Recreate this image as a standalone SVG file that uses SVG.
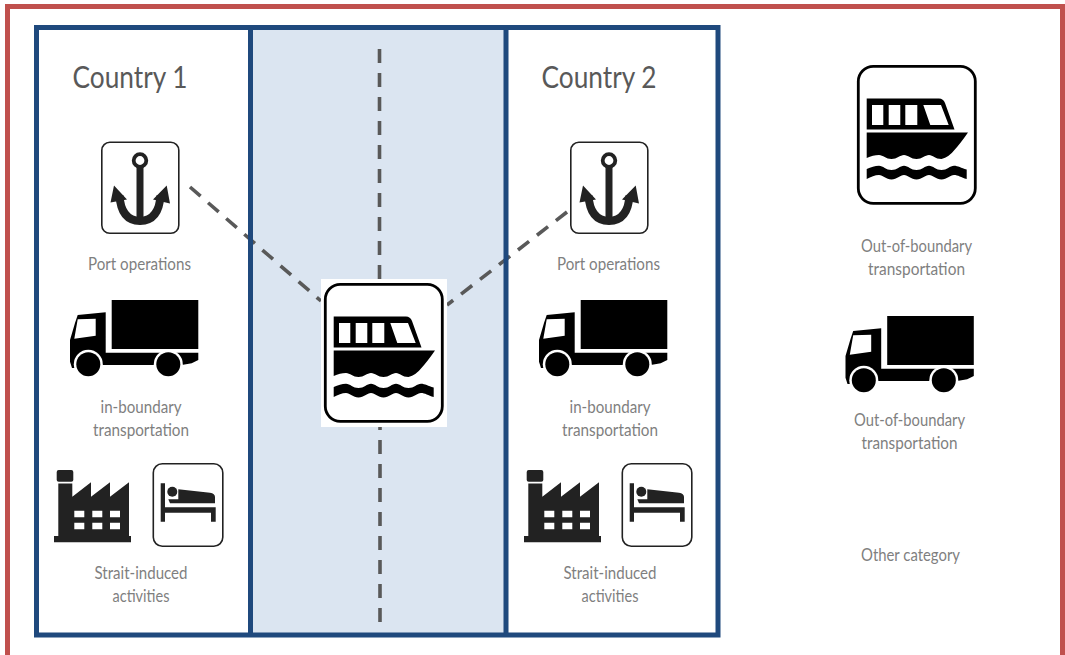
<svg xmlns="http://www.w3.org/2000/svg" width="1065" height="655" viewBox="0 0 1065 655">
<style>
.t{font-family:"Lato","Carlito","Liberation Sans",sans-serif;fill:#7f7f7f;font-size:16.5px;text-anchor:middle}
.h{font-family:"Lato","Carlito","Liberation Sans",sans-serif;fill:#595959;font-size:30px;text-anchor:middle}
.box{fill:#fff;stroke:#222;stroke-width:1.6}
.bline{fill:none;stroke:#1f497d;stroke-width:5}
.dash{fill:none;stroke:#595959;stroke-width:3.6;stroke-dasharray:14 10}
</style>
<defs>
<g id="boat">
<rect x="1.300" y="1.300" width="117" height="137" rx="15" fill="#fff" stroke="#000" stroke-width="2.800"/>
<path fill-rule="evenodd" d="M9.700 33.500H82Q86.300 33.500 88 38L97.500 64.500H9.700ZM15 40V60H26.300V40ZM31.700 40V60H43.300V40ZM48.300 40V60H60.300V40ZM66.300 40L73.300 60H91.700L84 40Z"/>
<path d="M9.700 67.500H111Q103 79 97 85.500Q92 92 84.500 94C78 94 76 90 72 90S65 94 59.500 94S51 90 47 90S40 94 34.500 94S26 90 22 90S14 91 9.700 93Z"/>
<path d="M9.700 104C14 102 18 100.700 22 100.700S29 105 34.500 105S43 100.700 47 100.700S54 105 59.500 105S68 100.700 72 100.700S79 105 84.500 105S93 100.700 97 100.700S104 103 109.700 104.500V114C104 112.500 101 110 97 110S90 114.500 84.500 114.500S76 110 72 110S65 114.500 59.500 114.500S51 110 47 110S40 114.500 34.500 114.500S26 110 22 110S14 112 9.700 114Z"/>
</g>
<g id="anchor">
<rect x="0.800" y="0.800" width="77" height="91" rx="8" class="box"/>
<circle cx="39" cy="19" r="6.300" fill="none" stroke="#222" stroke-width="3.800"/>
<path d="M39 25V80" stroke="#222" stroke-width="7" fill="none"/>
<path d="M18.500 54Q20 79 39 79.500Q58 79 59.500 54" fill="none" stroke="#222" stroke-width="8"/>
<path d="M13 44L9.500 61L26 58Z M65.700 44L69 62L52 58Z" fill="#222"/>
</g>
<g id="truck">
<path d="M111.700 300H198.300V349H111.700Z"/>
<path fill-rule="evenodd" d="M77.700 315L105.700 312.300V352.700H198.300V360L191.700 363.300L181.700 365H100V368H72L70 361.700V340L75 323ZM77.700 319.300L74.300 338.700L95.700 335.700V318.700Z"/>
<circle cx="88.300" cy="364.300" r="14.500" fill="#fff"/>
<circle cx="168.300" cy="364.300" r="14.500" fill="#fff"/>
<circle cx="88.300" cy="364.300" r="12"/>
<circle cx="168.300" cy="364.300" r="12"/>
</g>
<g id="factory">
<path fill="#222" fill-rule="evenodd" d="M58.700 470H71.300Q73.300 470 73.300 472V480Q73.300 481.700 71.300 481.700H58.700Q56.700 481.700 56.700 480V472Q56.700 470 58.700 470ZM58.300 483.500H72.300V496.700L91 482.300V496.700L110 482.300V496.700L129 482.300V536H131V542.300H54V536H58.300ZM74.300 510.700V517.300H84.300V510.700ZM92.300 510.700V517.300H102.300V510.700ZM110 510.700V517.300H120V510.700ZM74.300 522.700V529.300H84.300V522.700ZM92.300 522.700V529.300H102.300V522.700ZM110 522.700V529.300H120V522.700Z"/>
</g>
<g id="bed">
<rect x="153.300" y="463.800" width="69.500" height="82.500" rx="9" class="box"/>
<path fill="#222" d="M160.700 483.300H165V507.300H215.700V521.700H211V512.700H165V521.700H160.700Z"/>
<circle cx="172.300" cy="491.700" r="5" fill="#222"/>
<path fill="#222" d="M178.300 489.300L210 492.700Q215 493.500 215 497V503.300H170L168.300 499.300H178.300Z"/>
</g>
</defs>

<g id="frame">
<path d="M7.500 670V6.500H1062.500V670" fill="none" stroke="#c0504d" stroke-width="5"/>
</g>
<g id="strait">
<rect x="250" y="27.500" width="256" height="607.500" fill="#dbe5f1"/>
</g>
<g id="connectors">
<path class="dash" d="M379.500 49V282"/>
<path class="dash" d="M380 622V424"/>
<path class="dash" d="M190 187L321 301"/>
<path class="dash" d="M567 212L447 305"/>
</g>
<g id="panels">
<rect x="36.500" y="27.500" width="681.500" height="607.500" class="bline"/>
<path class="bline" d="M250.500 27.500V635M506 27.500V635"/>
</g>

<g id="country1">
<text class="h" x="130" y="88" textLength="115" lengthAdjust="spacingAndGlyphs">Country 1</text>
</g>
<g id="port1">
<use href="#anchor" x="101" y="141.500"/>
<text class="t" x="139.500" y="270" textLength="103" lengthAdjust="spacingAndGlyphs">Port operations</text>
</g>
<g id="truck1">
<use href="#truck"/>
<text class="t" x="141" y="413" textLength="81" lengthAdjust="spacingAndGlyphs">in-boundary</text>
<text class="t" x="141" y="436" textLength="96" lengthAdjust="spacingAndGlyphs">transportation</text>
</g>
<g id="activities1">
<use href="#factory"/>
<use href="#bed"/>
<text class="t" x="141" y="579" textLength="93" lengthAdjust="spacingAndGlyphs">Strait-induced</text>
<text class="t" x="141" y="602" textLength="57" lengthAdjust="spacingAndGlyphs">activities</text>
</g>

<g id="strait-boat">
<rect x="321" y="279" width="126" height="148" fill="#fff"/>
<use href="#boat" x="324" y="283"/>
</g>

<g id="country2">
<text class="h" x="599" y="88" textLength="115" lengthAdjust="spacingAndGlyphs">Country 2</text>
</g>
<g id="port2">
<use href="#anchor" x="570" y="141.500"/>
<text class="t" x="608.500" y="270" textLength="103" lengthAdjust="spacingAndGlyphs">Port operations</text>
</g>
<g id="truck2">
<use href="#truck" x="469"/>
<text class="t" x="610" y="413" textLength="81" lengthAdjust="spacingAndGlyphs">in-boundary</text>
<text class="t" x="610" y="436" textLength="96" lengthAdjust="spacingAndGlyphs">transportation</text>
</g>
<g id="activities2">
<use href="#factory" x="470"/>
<use href="#bed" x="469"/>
<text class="t" x="610" y="579" textLength="93" lengthAdjust="spacingAndGlyphs">Strait-induced</text>
<text class="t" x="610" y="602" textLength="57" lengthAdjust="spacingAndGlyphs">activities</text>
</g>

<g id="legend-boat">
<use href="#boat" x="857" y="65"/>
<text class="t" x="916.500" y="252" textLength="111" lengthAdjust="spacingAndGlyphs">Out-of-boundary</text>
<text class="t" x="916.500" y="275" textLength="97" lengthAdjust="spacingAndGlyphs">transportation</text>
</g>
<g id="legend-truck">
<use href="#truck" x="775.500" y="16"/>
<text class="t" x="909.500" y="426" textLength="111" lengthAdjust="spacingAndGlyphs">Out-of-boundary</text>
<text class="t" x="909.500" y="449" textLength="96" lengthAdjust="spacingAndGlyphs">transportation</text>
</g>
<g id="legend-other">
<text class="t" x="910.500" y="561" textLength="99" lengthAdjust="spacingAndGlyphs">Other category</text>
</g>
</svg>
